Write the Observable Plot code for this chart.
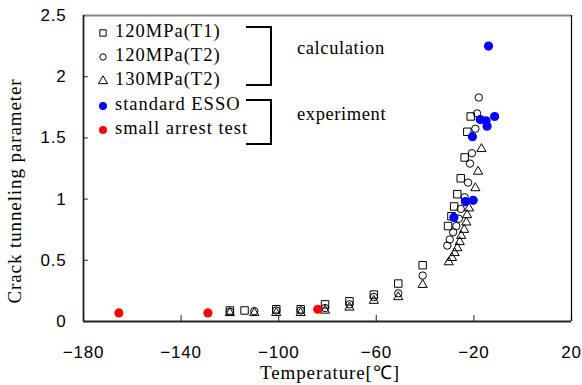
<!DOCTYPE html>
<html><head><meta charset="utf-8">
<script src="https://cdn.jsdelivr.net/npm/d3@7"></script>
<script src="https://cdn.jsdelivr.net/npm/@observablehq/plot@0.6"></script>
<style>
body{margin:0;background:#fff;}
#chart{width:582px;height:385px;}
</style></head><body><div id="chart"></div>
<script>
// calculation 120MPa (T1) — squares
const t1Temp = [-120,-114,-101,-91,-81,-71,-61,-51,-41,-30.6,-29.2,-28.1,-26.8,-25.4,-23.8,-22.7,-21.3];
const t1Val  = [0.09,0.09,0.10,0.10,0.14,0.165,0.22,0.31,0.46,0.78,0.86,0.94,1.04,1.17,1.34,1.55,1.675];
// calculation 120MPa (T2) — circles
const t2Temp = [-120,-110,-101,-91,-81,-71,-61,-51,-41,-30.9,-29.9,-28.5,-27.2,-26.2,-25.4,-23.8,-22.4,-21.6,-20.8,-19.4,-18.7,-18];
const t2Val  = [0.08,0.085,0.09,0.09,0.11,0.14,0.20,0.23,0.375,0.62,0.67,0.73,0.78,0.84,0.92,1.015,1.135,1.29,1.375,1.575,1.70,1.83];
// calculation 130MPa (T2) — triangles
const t3Temp = [-120,-110,-101,-91,-81,-71,-61,-51,-41,-30.3,-29,-27.9,-26.8,-25.8,-25.2,-24,-23.1,-22.8,-22,-19.4,-18.3,-16.9];
const t3Val  = [0.07,0.07,0.07,0.07,0.09,0.115,0.17,0.20,0.30,0.485,0.52,0.56,0.60,0.65,0.70,0.75,0.81,0.87,0.925,1.09,1.225,1.41];
// experiment: standard ESSO — blue
const essoTemp = [-14,-17.4,-15,-11.5,-14.6,-20.6,-23.5,-20.3,-28.2];
const essoVal  = [2.25,1.65,1.64,1.675,1.595,1.51,0.98,0.99,0.85];
// experiment: small arrest test — red
const smallTemp = [-165.5,-129,-84];
const smallVal  = [0.07,0.07,0.10];

const xTicks = [-180,-140,-100,-60,-20,20];
const yTicks = [0,0.5,1,1.5,2,2.5];

const legendItems = ["120MPa(T1)","120MPa(T2)","130MPa(T2)","standard ESSO","small arrest test"];
const groupLabels = ["calculation","experiment"];

const toRows = (xs, ys) => xs.map((x,i)=>({x, y: ys[i]}));

const serif = "'Liberation Serif', 'Times New Roman', serif";
const sans = "'Liberation Sans', Arial, sans-serif";

const chart = Plot.plot({
  width: 582, height: 385,
  marginLeft: 83, marginRight: 11, marginTop: 15, marginBottom: 64,
  style: {fontFamily: sans, fontSize: "17px", background: "white", color: "black"},
  x: {domain: [-180, 20]},
  y: {domain: [0, 2.5]},
  marks: [
    Plot.axisX({ticks: xTicks, tickSize: 0, tickPadding: 24, label: null, fontSize: 17, tickFormat: d => d < 0 ? "\u2212" + Math.abs(d) : String(d)}),
    Plot.axisY({ticks: yTicks, tickSize: 0, tickPadding: 17, label: null, fontSize: 17, tickFormat: d => String(d)}),
    // inward tick marks
    Plot.ruleX(xTicks, {y1: 0, y2: 0.05, stroke: "#444", strokeWidth: 1.2}),
    Plot.ruleY(yTicks, {x1: -180, x2: -178, stroke: "#444", strokeWidth: 1.2}),
    Plot.ruleY([2.5], {stroke: "#888", strokeWidth: 2}),
    Plot.ruleX([20], {stroke: "black", strokeWidth: 1.2}),
    Plot.ruleX([-180], {stroke: "#222", strokeWidth: 1.8}),
    Plot.ruleY([0], {stroke: "#222", strokeWidth: 2}),
    Plot.dot(toRows(t1Temp, t1Val), {x: "x", y: "y", symbol: "square", r: 4.2, stroke: "black", strokeWidth: 1, fill: "none"}),
    Plot.dot(toRows(t2Temp, t2Val), {x: "x", y: "y", symbol: "circle", r: 3.7, stroke: "black", strokeWidth: 1, fill: "none"}),
    Plot.dot(toRows(t3Temp, t3Val), {x: "x", y: "y", symbol: "triangle", r: 3.4, stroke: "black", strokeWidth: 1, fill: "none"}),
    Plot.dot(toRows(essoTemp, essoVal), {x: "x", y: "y", r: 4.6, fill: "#0000ff", stroke: "none"}),
    Plot.dot(toRows(smallTemp, smallVal), {x: "x", y: "y", r: 4.6, fill: "#ff0000", stroke: "none"})
  ]
});
chart.querySelectorAll("[aria-label$='tick label'] text").forEach(t => t.style.letterSpacing = "0.8px");
document.getElementById("chart").appendChild(chart);

const svg = d3.select(chart);
// axis titles
svg.append("text")
  .attr("transform", "translate(17,191) rotate(-90)")
  .attr("text-anchor", "middle").attr("dominant-baseline", "middle")
  .style("font-family", serif).style("font-size", "19px").style("letter-spacing", "0.9px")
  .attr("fill", "black").text("Crack tunneling parameter");
svg.append("text")
  .attr("x", 330).attr("y", 375)
  .attr("text-anchor", "middle").attr("dominant-baseline", "middle")
  .style("font-family", serif).style("font-size", "19px").style("letter-spacing", "0.9px")
  .attr("fill", "black").text("Temperature[\u2103]");

// legend
const lg = svg.append("g");
const rowY = [33, 57, 81, 106, 130];
const symbols = [d3.symbolSquare, d3.symbolCircle, d3.symbolTriangle, d3.symbolCircle, d3.symbolCircle];
const sizes = [40, 32, 36, 50, 50];
const fills = ["none","none","none","#0000ff","#ff0000"];
const strokes = ["black","black","black","none","none"];
legendItems.forEach((label, i) => {
  lg.append("path")
    .attr("d", d3.symbol(symbols[i], sizes[i])())
    .attr("transform", `translate(103,${rowY[i]})`)
    .attr("fill", fills[i]).attr("stroke", strokes[i]).attr("stroke-width", 1);
  lg.append("text")
    .attr("x", 115).attr("y", rowY[i]).attr("dominant-baseline", "middle")
    .attr("text-anchor", "start")
    .style("font-family", serif).style("font-size", "18.5px").style("letter-spacing", "1px")
    .attr("fill", "black").text(label);
});
// brackets
[[27, 85], [100, 144]].forEach(([y0, y1], i) => {
  lg.append("path")
    .attr("d", `M246,${y0}H271V${y1}H246`)
    .attr("fill", "none").attr("stroke", "black").attr("stroke-width", 2);
  lg.append("text")
    .attr("x", 297).attr("y", (y0 + y1) / 2 - 6).attr("dominant-baseline", "middle")
    .attr("text-anchor", "start")
    .style("font-family", serif).style("font-size", "18.5px").style("letter-spacing", "0.6px")
    .attr("fill", "black").text(groupLabels[i]);
});
</script>
</body></html>
